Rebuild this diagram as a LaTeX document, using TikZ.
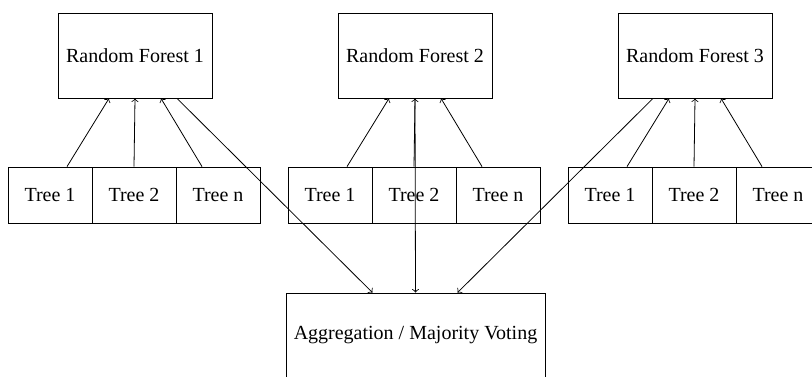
\documentclass[tikz,border=0pt]{standalone}
\usepackage{fontspec}
\setmainfont{Liberation Serif}
\begin{document}
\begin{tikzpicture}[x=0.5pt,y=-0.5pt,
  forestbox/.style={draw, line width=0.4pt, inner sep=0pt, minimum width=77pt, minimum height=42.5pt, font=\fontsize{10}{12}\selectfont},
  treebox/.style={draw, line width=0.4pt, inner sep=0pt, minimum width=42pt, minimum height=28pt, font=\fontsize{10}{12}\selectfont},
  aggbox/.style={draw, line width=0.4pt, inner sep=0pt, minimum width=129.5pt, minimum height=42.5pt, font=\fontsize{10}{12}\selectfont},
  link/.style={->, line width=0.4pt}]
\useasboundingbox (0,0) rectangle (812,376);
\clip (0,0) rectangle (812,376);

% random forests
\node[forestbox] (rf1) at (135,55.5) {Random Forest 1};
\node[forestbox] (rf2) at (415,55.5) {Random Forest 2};
\node[forestbox] (rf3) at (695,55.5) {Random Forest 3};

% trees of each forest
\foreach \k/\xo in {1/0, 2/280, 3/560} {
  \node[treebox] (t\k a) at (50+\xo,195) {Tree 1};
  \node[treebox] (t\k b) at (134+\xo,195) {Tree 2};
  \node[treebox] (t\k n) at (218+\xo,195) {Tree n};
  \draw[link] ([xshift=8.5pt]t\k a.north) -- ([xshift=-13pt]rf\k.south);
  \draw[link] (t\k b.north) -- (rf\k.south);
  \draw[link] ([xshift=-8pt]t\k n.north) -- ([xshift=13pt]rf\k.south);
}

% aggregation
\node[aggbox] (agg) at (415.5,335.5) {Aggregation / Majority Voting};

\draw[link] ([xshift=21pt]rf1.south) -- ([xshift=-21.5pt]agg.north);
\draw[link] (rf2.south) -- (agg.north);
\draw[link] ([xshift=-21pt]rf3.south) -- ([xshift=21pt]agg.north);
\end{tikzpicture}
\end{document}
